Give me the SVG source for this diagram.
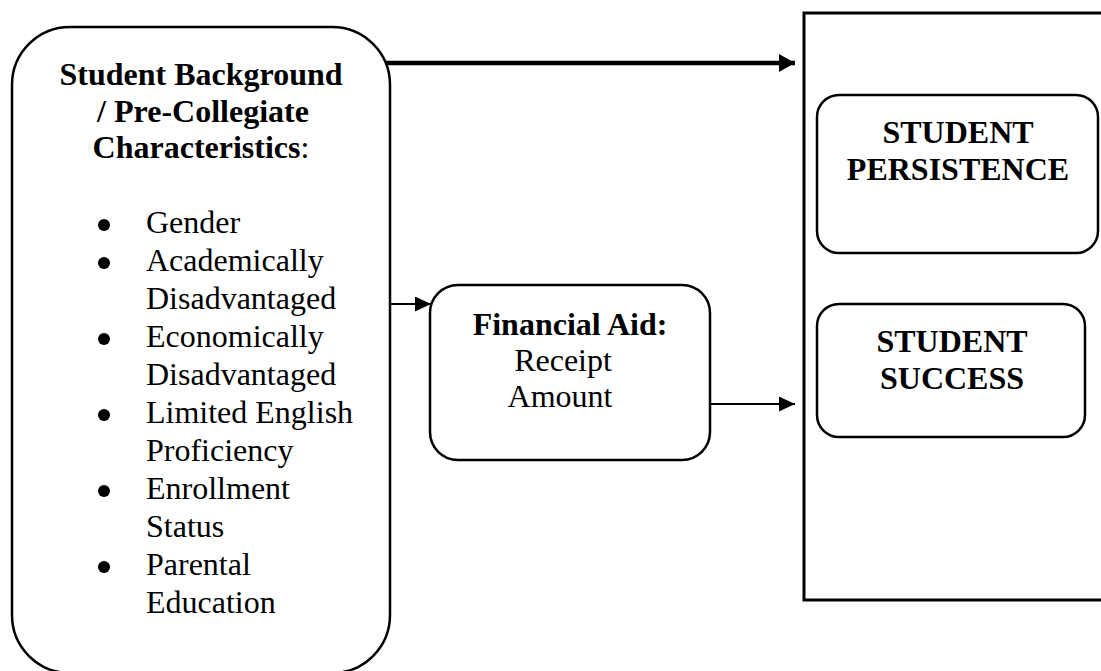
<svg xmlns="http://www.w3.org/2000/svg" width="1101" height="671" viewBox="0 0 1101 671">
<style>
.box{fill:#fff;stroke:#000;stroke-width:2.5}
.t{font-family:"Liberation Serif","Times New Roman",serif;font-size:32px;fill:#000}
.b{font-weight:bold}
.c{text-anchor:middle}
.ln{stroke:#000;fill:none}
</style>
<defs>
<marker id="ahBig" markerUnits="userSpaceOnUse" markerWidth="16" markerHeight="18" refX="16" refY="9" orient="auto">
<path d="M0,0 L16,9 L0,18 Z" fill="#000"/>
</marker>
<marker id="ahSm" markerUnits="userSpaceOnUse" markerWidth="16" markerHeight="15" refX="16" refY="7.5" orient="auto">
<path d="M0,0 L16,7.5 L0,15 Z" fill="#000"/>
</marker>
</defs>
<rect width="1101" height="671" fill="#fff"/>

<g id="outcomes">
<path d="M1105,13 L804,13 L804,600 L1105,600" fill="none" stroke="#000" stroke-width="3"/>
</g>

<g id="background">
<rect class="box" x="12" y="27" width="378" height="646" rx="58" ry="58"/>
<text class="t b c" x="201" y="85">Student Background</text>
<text class="t b c" x="203" y="122">/ Pre-Collegiate</text>
<text class="t c" x="201" y="158"><tspan class="b">Characteristics</tspan>:</text>
<g fill="#000">
<circle cx="104" cy="225" r="6"/>
<circle cx="104" cy="263" r="6"/>
<circle cx="104" cy="339" r="6"/>
<circle cx="104" cy="415" r="6"/>
<circle cx="104" cy="491" r="6"/>
<circle cx="104" cy="567" r="6"/>
</g>
<text class="t" x="146" y="233">Gender</text>
<text class="t" x="146" y="271">Academically</text>
<text class="t" x="146" y="309">Disadvantaged</text>
<text class="t" x="146" y="347">Economically</text>
<text class="t" x="146" y="385">Disadvantaged</text>
<text class="t" x="146" y="423">Limited English</text>
<text class="t" x="146" y="461">Proficiency</text>
<text class="t" x="146" y="499">Enrollment</text>
<text class="t" x="146" y="537">Status</text>
<text class="t" x="146" y="575">Parental</text>
<text class="t" x="146" y="613">Education</text>
</g>

<g id="financial-aid">
<rect class="box" x="430" y="285" width="280" height="175" rx="28" ry="28"/>
<text class="t b c" x="570" y="335">Financial Aid:</text>
<text class="t c" x="563" y="371">Receipt</text>
<text class="t c" x="560" y="407">Amount</text>
</g>

<g id="persistence">
<rect class="box" x="817" y="95" width="281" height="158" rx="22" ry="22"/>
<text class="t b c" x="958" y="143">STUDENT</text>
<text class="t b c" x="958" y="180">PERSISTENCE</text>
</g>

<g id="success">
<rect class="box" x="817" y="304" width="268" height="133" rx="22" ry="22"/>
<text class="t b c" x="952" y="352">STUDENT</text>
<text class="t b c" x="952" y="389">SUCCESS</text>
</g>

<g id="connectors">
<line class="ln" x1="386" y1="63" x2="795" y2="63" stroke-width="4.5" marker-end="url(#ahBig)"/>
<line class="ln" x1="390" y1="304" x2="431" y2="304" stroke-width="2" marker-end="url(#ahSm)"/>
<line class="ln" x1="711" y1="404" x2="795" y2="404" stroke-width="2" marker-end="url(#ahSm)"/>
</g>
</svg>
